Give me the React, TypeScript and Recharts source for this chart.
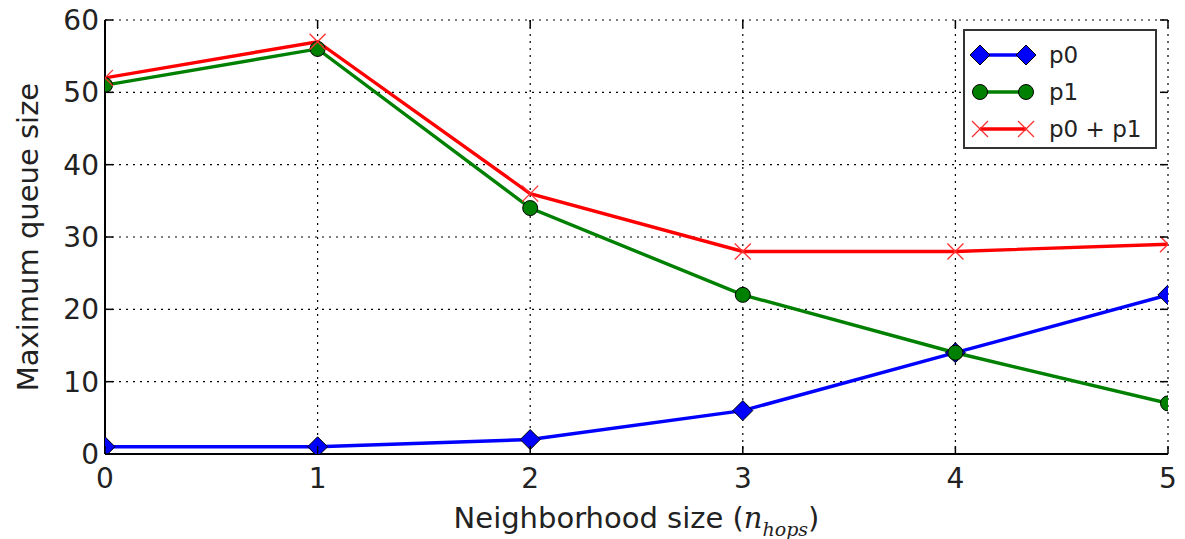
import React from 'react';
import { LineChart, Line, XAxis, YAxis, CartesianGrid, Legend, Label } from 'recharts';

const hops = [0, 1, 2, 3, 4, 5];
const p0 = [1, 1, 2, 6, 14, 22];
const p1 = [51, 56, 34, 22, 14, 7];
const p0p1 = [52, 57, 36, 28, 28, 29];
const xTicks = [0, 1, 2, 3, 4, 5];
const yTicks = [0, 10, 20, 30, 40, 50, 60];

const data = hops.map((h, i) => ({ h, p0: p0[i], p1: p1[i], sum: p0p1[i] }));

const W = 1185;
const H = 539;
const M = { top: 20, right: 17, left: 0, bottom: 0 };
const YW = 105;
const XH = 85;
const PL = M.left + YW;
const PR = W - M.right;
const PT = M.top;
const PB = H - M.bottom - XH;
const FONT = 'DejaVu Sans, sans-serif';

const XTick = (props: any) => {
  const { x, payload } = props;
  return (
    <g>
      <line x1={x} x2={x} y1={PB} y2={PB - 8} stroke="#000" strokeWidth={1.5} />
      <line x1={x} x2={x} y1={PT} y2={PT + 8} stroke="#000" strokeWidth={1.5} />
      <text x={x} y={PB + 34} textAnchor="middle" fontSize={28} fontFamily={FONT} fill="#222">
        {payload.value}
      </text>
    </g>
  );
};

const YTick = (props: any) => {
  const { y, payload } = props;
  return (
    <g>
      <line x1={PL} x2={PL + 8} y1={y} y2={y} stroke="#000" strokeWidth={1.5} />
      <line x1={PR} x2={PR - 8} y1={y} y2={y} stroke="#000" strokeWidth={1.5} />
      <text x={PL - 6} y={y + 10} textAnchor="end" fontSize={28} fontFamily={FONT} fill="#222">
        {payload.value}
      </text>
    </g>
  );
};

// Wrap a marker in a nested svg viewport covering the plot area so it is clipped at the spines
const PlotClip = ({ on, children }: { on: boolean; children: React.ReactNode }) => {
  if (!on) return <g>{children}</g>;
  return (
    <svg x={PL} y={PT} width={PR - PL} height={PB - PT} overflow="hidden">
      <g transform={`translate(${-PL},${-PT})`}>{children}</g>
    </svg>
  );
};

const Diamond = (props: any) => {
  const { cx, cy, noclip } = props;
  if (cx == null || cy == null) return null;
  const r = 10;
  return (
    <PlotClip on={!noclip}>
      <path
        d={`M${cx},${cy - r}L${cx + r},${cy}L${cx},${cy + r}L${cx - r},${cy}Z`}
        fill="#0000ff"
        stroke="#000"
        strokeWidth={1}
      />
    </PlotClip>
  );
};

const Circ = (props: any) => {
  const { cx, cy, noclip } = props;
  if (cx == null || cy == null) return null;
  return (
    <PlotClip on={!noclip}>
      <circle cx={cx} cy={cy} r={7.5} fill="#008000" stroke="#000" strokeWidth={1} />
    </PlotClip>
  );
};

const Cross = (props: any) => {
  const { cx, cy, noclip } = props;
  if (cx == null || cy == null) return null;
  const r = 8;
  return (
    <PlotClip on={!noclip}>
      <g stroke="#ff3030" strokeWidth={1.3}>
        <line x1={cx - r} y1={cy - r} x2={cx + r} y2={cy + r} />
        <line x1={cx - r} y1={cy + r} x2={cx + r} y2={cy - r} />
      </g>
    </PlotClip>
  );
};

const legendItems = [
  { name: 'p0', color: '#0000ff', Mk: Diamond },
  { name: 'p1', color: '#008000', Mk: Circ },
  { name: 'p0 + p1', color: '#ff0000', Mk: Cross },
];

const LegendBox = () => (
  <div
    style={{
      width: 194,
      height: 120,
      border: '2px solid #333',
      background: '#fff',
      boxSizing: 'border-box',
      fontFamily: FONT,
      fontSize: 23,
      color: '#222',
    }}
  >
    {legendItems.map((it, i) => (
      <div key={it.name} style={{ display: 'flex', alignItems: 'center', height: 37, marginTop: i === 0 ? 5 : 0 }}>
        <svg width={76} height={30} style={{ display: 'block' }}>
          <line x1={15} x2={61} y1={15} y2={15} stroke={it.color} strokeWidth={3.4} />
          <it.Mk cx={15} cy={15} noclip />
          <it.Mk cx={61} cy={15} noclip />
        </svg>
        <span style={{ marginLeft: 8 }}>{it.name}</span>
      </div>
    ))}
  </div>
);

export default function App() {
  return (
    <div style={{ width: W, height: H, position: 'absolute', left: 0, top: 0 }}>
      <LineChart width={W} height={H} data={data} margin={M}>
        <CartesianGrid stroke="#000" strokeDasharray="2 5" strokeWidth={1.2} horizontalValues={yTicks} verticalValues={xTicks} />
        <XAxis
          dataKey="h"
          type="number"
          domain={[0, 5]}
          ticks={xTicks}
          allowDataOverflow
          height={XH}
          tickSize={0}
          tickLine={false}
          axisLine={{ stroke: '#000', strokeWidth: 2 }}
          tick={<XTick />}
          interval={0}
        >
          <Label
            content={() => (
              <text x={(PL + PR) / 2} y={PB + 74} textAnchor="middle" fontSize={29} fontFamily={FONT} fill="#222">
                Neighborhood size (
                <tspan fontStyle="italic" fontFamily="DejaVu Serif, serif">n</tspan>
                <tspan fontStyle="italic" fontFamily="DejaVu Serif, serif" fontSize={19} dy={8}>hops</tspan>
                <tspan dy={-8}>)</tspan>
              </text>
            )}
          />
        </XAxis>
        <YAxis
          type="number"
          domain={[0, 60]}
          ticks={yTicks}
          allowDataOverflow
          width={YW}
          tickSize={0}
          tickLine={false}
          axisLine={{ stroke: '#000', strokeWidth: 2 }}
          tick={<YTick />}
          interval={0}
        >
          <Label
            content={() => (
              <text
                x={38}
                y={(PT + PB) / 2}
                transform={`rotate(-90 38 ${(PT + PB) / 2})`}
                textAnchor="middle"
                fontSize={29}
                fontFamily={FONT}
                fill="#222"
              >
                Maximum queue size
              </text>
            )}
          />
        </YAxis>
        <XAxis xAxisId="top" orientation="top" dataKey="h" type="number" domain={[0, 5]} height={0} tick={false} tickLine={false} axisLine={{ stroke: '#000', strokeWidth: 2 }} />
        <YAxis yAxisId="right" orientation="right" type="number" domain={[0, 60]} width={0} tick={false} tickLine={false} axisLine={{ stroke: '#000', strokeWidth: 2 }} />
        <Line dataKey="p0" stroke="#0000ff" strokeWidth={3.4} dot={<Diamond />} activeDot={false} isAnimationActive={false} />
        <Line dataKey="p1" stroke="#008000" strokeWidth={3.4} dot={<Circ />} activeDot={false} isAnimationActive={false} />
        <Line dataKey="sum" stroke="#ff0000" strokeWidth={3.4} dot={<Cross />} activeDot={false} isAnimationActive={false} />
        <Legend
          layout="vertical"
          align="center"
          verticalAlign="middle"
          content={<LegendBox />}
          wrapperStyle={{ position: 'absolute', left: 963, top: 29, width: 194, height: 120 }}
        />
      </LineChart>
    </div>
  );
}
